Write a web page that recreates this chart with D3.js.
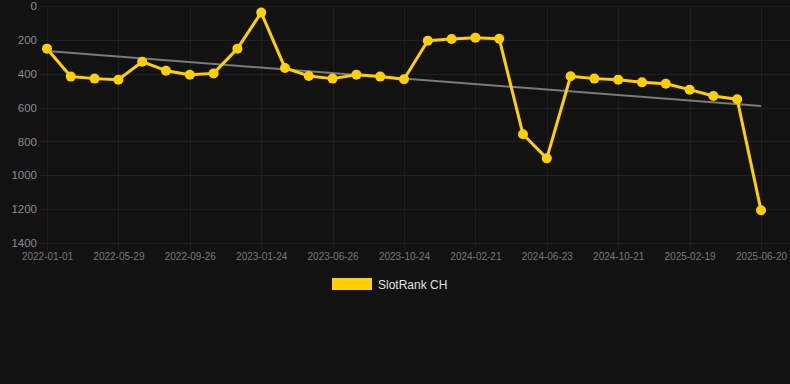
<!DOCTYPE html>
<html>
<head>
<meta charset="utf-8">
<script src="https://cdn.jsdelivr.net/npm/d3@7/dist/d3.min.js"></script>
<style>
  html, body { margin: 0; padding: 0; background: #121212; }
  svg { display: block; }
  text { font-family: "Liberation Sans", Arial, Helvetica, sans-serif; }
</style>
</head>
<body>
<svg id="chart" width="790" height="384"></svg>
<script>
// Categories (dates; only every third is labelled on the axis)
const dates = [
  "2022-01-01", "2022-02-19", "2022-04-09", "2022-05-29", "2022-07-08", "2022-08-17",
  "2022-09-26", "2022-11-04", "2022-12-15", "2023-01-24", "2023-03-05", "2023-05-16",
  "2023-06-26", "2023-08-05", "2023-09-14", "2023-10-24", "2023-12-02", "2024-01-11",
  "2024-02-21", "2024-04-01", "2024-05-12", "2024-06-23", "2024-08-02", "2024-09-11",
  "2024-10-21", "2024-11-30", "2025-01-09", "2025-02-19", "2025-03-31", "2025-05-10",
  "2025-06-20"
];
// SlotRank CH values
const rankValues = [
  252, 417, 429, 435, 329, 382, 406, 398, 252, 39, 366, 413,
  429, 406, 417, 433, 205, 195, 187, 193, 758, 900, 415, 429,
  435, 451, 459, 494, 532, 551, 1207
];
// Trend line endpoints (values at first and last category)
const trendValues = [266, 591];
const yTicks = [0, 200, 400, 600, 800, 1000, 1200, 1400];
const seriesName = "SlotRank CH";

const svg = d3.select("#chart");
const W = 790, H = 384;
const plot = { left: 47, right: 761, top: 6, bottom: 243 };

svg.append("rect").attr("width", W).attr("height", H).attr("fill", "#121212");

const x = d3.scalePoint().domain(dates).range([plot.left, plot.right]);
const y = d3.scaleLinear().domain([0, 1400]).range([plot.top, plot.bottom]);

const gridColor = "#1f1f1f";

// horizontal grid
svg.append("g").selectAll("line").data(yTicks).join("line")
  .attr("x1", 39).attr("x2", W)
  .attr("y1", d => Math.round(y(d)) + 0.5).attr("y2", d => Math.round(y(d)) + 0.5)
  .attr("stroke", gridColor).attr("stroke-width", 1);

// vertical grid at labelled categories
const labelled = dates.filter((d, i) => i % 3 === 0);
svg.append("g").selectAll("line").data(labelled).join("line")
  .attr("x1", d => Math.round(x(d)) + 0.5).attr("x2", d => Math.round(x(d)) + 0.5)
  .attr("y1", plot.top).attr("y2", plot.bottom + 7)
  .attr("stroke", gridColor).attr("stroke-width", 1);

// y axis labels
const yAxis = d3.axisLeft(y).tickValues(yTicks).tickFormat(d3.format("d")).tickSize(0).tickPadding(0);
const gy = svg.append("g").attr("transform", "translate(37,0)").call(yAxis);
gy.select(".domain").remove();
gy.selectAll("text").attr("fill", "#8a8a8a").style("font-size", "11.5px")
  .style("font-family", "'Liberation Sans', Arial, sans-serif");

// x axis labels
const xAxis = d3.axisBottom(x).tickValues(labelled).tickSize(0).tickPadding(0);
const gx = svg.append("g").attr("transform", "translate(0,253)").call(xAxis);
gx.select(".domain").remove();
gx.selectAll("text").attr("fill", "#777").style("font-size", "10px")
  .style("font-family", "'Liberation Sans', Arial, sans-serif");

// trend line
svg.append("line")
  .attr("x1", x(dates[0])).attr("y1", y(trendValues[0]))
  .attr("x2", x(dates[dates.length - 1])).attr("y2", y(trendValues[1]))
  .attr("stroke", "#7a7a7a").attr("stroke-width", 2);

const gold = "#ffd000";
const data = dates.map((d, i) => ({ d, v: rankValues[i] }));

svg.append("path").datum(data)
  .attr("fill", "none").attr("stroke", gold).attr("stroke-width", 3)
  .attr("stroke-linejoin", "round")
  .attr("d", d3.line().x(p => x(p.d)).y(p => y(p.v)));

svg.append("g").selectAll("circle").data(data).join("circle")
  .attr("cx", p => x(p.d)).attr("cy", p => y(p.v)).attr("r", 5)
  .attr("fill", gold);

// legend
const lg = svg.append("g");
lg.append("rect").attr("x", 332).attr("y", 278).attr("width", 40).attr("height", 12)
  .attr("fill", gold);
lg.append("text").attr("x", 378).attr("y", 289).attr("fill", "#e0e0e0")
  .style("font-size", "12px").text(seriesName);
</script>
</body>
</html>
